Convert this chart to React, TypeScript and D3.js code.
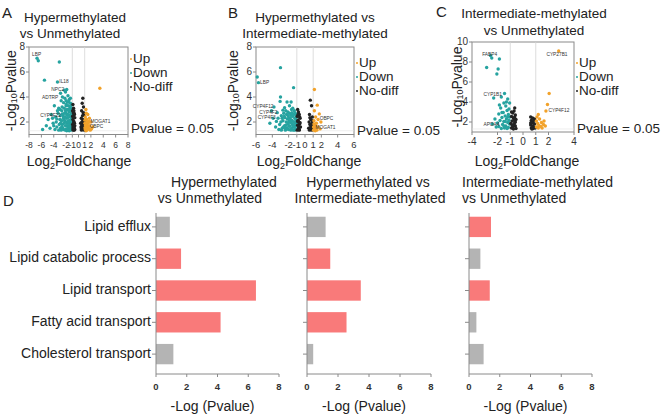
import React from 'react';
import * as d3 from 'd3';

type P = [number, number];

// ---------- Panel A: Hypermethylated vs Unmethylated ----------
const downA: P[] = [[-6.7,7.1],[-6.5,6.9],[-3.1,6.8],[-5.5,5.35],[-3.4,5.2],[-2.9,4.3],[-2.3,4.55],[-2.1,4.4],[-1.9,4.6],[-2.6,4.0],[-2.2,3.9],[-1.7,4.1],[-2.8,3.7],[-3.9,3.3],[-2.4,3.55],[-1.5,3.8],[-1.8,3.6],[-3.2,3.1],[-2.0,3.3],[-1.3,3.5],[-4.4,2.6],[-4.9,2.2],[-5.2,1.7],[-4.1,1.9],[-3.7,2.4],[-3.5,1.6],[-3.3,2.7],[-3.0,2.2],[-2.9,1.5],[-2.7,2.9],[-2.6,1.8],[-2.5,2.5],[-2.4,1.4],[-2.3,3.1],[-2.2,2.1],[-2.1,1.7],[-2.0,2.7],[-1.95,1.45],[-1.9,2.3],[-1.85,3.0],[-1.8,1.9],[-1.75,2.6],[-1.7,1.5],[-1.65,3.3],[-1.6,2.1],[-1.55,1.7],[-1.5,2.8],[-1.45,1.4],[-1.4,2.4],[-1.35,3.1],[-1.3,1.9],[-1.25,2.6],[-1.2,1.6],[-1.15,2.2],[-1.1,3.0],[-1.05,1.45],[-1.02,2.5],[-3.8,1.4],[-3.6,2.0],[-3.4,2.9],[-3.1,1.8],[-2.95,2.5],[-2.8,1.35],[-2.75,2.1],[-2.65,3.2],[-2.55,1.55],[-2.45,2.3],[-2.35,1.9],[-2.25,2.7],[-2.15,1.35],[-2.05,2.0],[-1.98,3.4],[-1.88,1.7],[-1.78,2.35],[-1.72,2.95],[-1.62,1.35],[-1.58,2.55],[-1.48,1.95],[-1.42,3.25],[-1.38,1.6],[-1.32,2.15],[-1.28,2.85],[-1.22,1.35],[-1.18,1.8],[-1.12,2.45],[-1.08,1.65],[-1.04,2.05],[-1.6,3.6],[-2.0,3.7],[-1.3,3.9],[-1.1,3.4],[-1.5,1.3],[-1.9,1.3],[-1.2,2.9],[-2.7,1.6],[-3.2,1.35],[-4.6,1.5],[-4.2,2.3],[-5.8,1.4],[-3.0,3.0],[-2.2,2.4],[-1.7,2.0],[-1.4,1.8],[-1.1,1.9],[-1.25,3.2],[-1.55,3.0],[-1.85,2.55],[-2.1,2.9],[-2.35,2.15],[-2.6,2.65],[-2.9,1.9],[-3.5,2.25],[-4.0,1.7]];
const upA: P[] = [[3.45,4.7],[1.2,3.0],[1.5,2.6],[1.1,2.4],[1.3,2.2],[1.7,2.05],[1.05,1.9],[1.4,1.8],[1.2,1.6],[1.6,1.5],[1.1,1.4],[1.35,1.35],[1.8,1.7],[2.1,1.45],[1.25,2.7],[1.05,2.15],[1.45,2.0],[1.15,1.75],[1.55,1.65],[1.3,1.5],[1.05,1.55],[1.9,1.35],[1.2,1.3],[2.3,1.6],[1.6,1.95],[1.75,2.3],[1.4,1.4],[2.0,2.0]];
const nodiffA: P[] = [[-0.9,3.4],[-0.8,3.1],[-0.95,2.9],[-0.7,2.7],[-0.85,2.5],[-0.6,2.35],[-0.9,2.2],[-0.75,2.05],[-0.65,1.9],[-0.95,1.8],[-0.8,1.7],[-0.7,1.55],[-0.9,1.45],[-0.6,1.4],[-0.85,1.35],[-0.75,2.9],[-0.65,2.6],[-0.95,2.45],[-0.7,1.35],[-0.8,1.95],[-0.9,1.6],[-0.6,1.7],[-0.85,2.75],[-0.75,1.5],[0.7,3.9],[0.6,3.5],[0.8,3.2],[0.5,2.9],[0.9,2.7],[0.65,2.5],[0.45,2.3],[0.85,2.15],[0.55,2.0],[0.75,1.85],[0.95,1.7],[0.4,1.6],[0.6,1.5],[0.8,1.4],[0.5,1.35],[0.7,1.65],[0.9,2.0],[0.35,1.9],[0.65,2.2],[0.85,2.55],[0.45,1.45],[0.75,2.75],[0.55,1.75],[0.95,1.35]];
const labelsA: [string, number, number][] = [["LBP",-7.5,7.35],["IL18",-3.1,5.2],["NPC2",-4.4,4.56],["ADTRP",-5.9,3.98],["CYP4F22",-6.2,2.48],["MOGAT1",1.95,2.02],["OBPC",1.8,1.6]];
const xTicksA = [-8,-6,-4,-2,-1,0,1,2,4,6,8];
const yTicksA = [2,4,6,8];

// ---------- Panel B: Hypermethylated vs Intermediate-methylated ----------
const downB: P[] = [[-5.85,5.6],[-5.7,5.15],[-3.0,6.35],[-1.4,4.75],[-3.0,4.0],[-3.05,3.65],[-3.8,3.2],[-2.2,3.6],[-1.7,3.6],[-2.5,3.15],[-2.7,2.95],[-1.9,3.3],[-1.5,3.1],[-4.1,2.9],[-3.4,2.75],[-2.1,2.8],[-1.3,2.9],[-3.3,2.3],[-3.1,1.8],[-2.9,2.5],[-2.8,1.5],[-2.7,2.1],[-2.6,2.7],[-2.5,1.7],[-2.45,2.35],[-2.4,1.35],[-2.3,2.0],[-2.25,2.6],[-2.2,1.55],[-2.15,2.25],[-2.1,1.85],[-2.05,2.5],[-2.0,1.4],[-1.95,2.1],[-1.9,2.7],[-1.85,1.65],[-1.8,2.35],[-1.75,1.95],[-1.7,2.55],[-1.65,1.45],[-1.6,2.15],[-1.55,1.8],[-1.5,2.45],[-1.45,1.35],[-1.4,2.0],[-1.35,2.65],[-1.3,1.6],[-1.25,2.3],[-1.2,1.9],[-1.15,1.45],[-1.1,2.2],[-1.05,1.7],[-3.6,1.6],[-3.5,2.05],[-3.2,1.4],[-2.95,2.0],[-2.65,1.6],[-2.35,1.75],[-2.05,1.95],[-1.75,1.35],[-1.6,2.75],[-1.45,2.6],[-1.25,1.35],[-1.1,2.55],[-2.8,2.3],[-2.55,2.45],[-2.0,2.3],[-1.85,2.05],[-1.55,1.55],[-1.3,2.0],[-1.15,1.75],[-2.45,1.5],[-2.15,1.45],[-1.95,1.7],[-1.7,2.15],[-1.4,1.7],[-3.9,2.3],[-4.3,1.9],[-2.9,1.35],[-1.0,1.9],[-1.05,2.4],[-1.2,2.7],[-1.65,3.0],[-2.35,2.9]];
const upB: P[] = [[1.15,4.6],[1.5,3.35],[1.15,2.9],[1.75,2.65],[1.95,2.0],[1.3,2.4],[1.6,2.2],[1.1,2.1],[1.4,1.9],[1.2,1.75],[1.05,1.6],[1.3,1.5],[1.15,1.4],[1.45,1.35],[1.05,1.35],[1.6,1.6],[1.25,1.3],[1.85,1.45],[1.35,1.65],[1.1,1.85]];
const nodiffB: P[] = [[-0.9,3.0],[-0.8,2.8],[-0.7,2.6],[-0.95,2.45],[-0.6,2.3],[-0.85,2.15],[-0.75,2.0],[-0.65,1.85],[-0.9,1.75],[-0.55,1.6],[-0.8,1.5],[-0.7,1.4],[-0.95,1.35],[-0.6,1.95],[-0.85,2.6],[-0.75,1.65],[-0.65,2.4],[-0.9,2.05],[-0.7,1.35],[0.65,3.75],[0.8,3.3],[0.55,2.6],[0.9,2.4],[0.7,2.2],[0.5,2.0],[0.85,1.9],[0.6,1.8],[0.75,1.65],[0.95,1.55],[0.45,1.5],[0.7,1.4],[0.85,1.35],[0.55,1.35],[0.9,2.1],[0.6,2.35],[0.8,1.7],[0.65,1.55]];
const labelsB: [string, number, number][] = [["LBP",-5.5,5.15],["CYP4F12",-6.4,3.25],["CYP4F2",-5.6,2.78],["CYP4F3",-5.8,2.32],["OBPC",1.8,2.3],["MOGAT1",1.3,1.58]];
const xTicksB = [-6,-4,-2,-1,0,1,2,4,6];
const yTicksB = [2,4,6,8];

// ---------- Panel C: Intermediate-methylated vs Unmethylated ----------
const downC: P[] = [[-2.85,7.45],[-2.45,8.4],[-1.85,8.3],[-1.95,7.3],[-2.05,6.8],[-2.55,8.65],[-1.45,4.85],[-1.7,4.5],[-2.3,4.4],[-1.2,4.3],[-1.5,3.9],[-1.35,3.6],[-1.75,3.4],[-1.25,3.15],[-1.55,2.95],[-1.1,3.3],[-1.9,2.8],[-1.4,2.6],[-1.15,2.75],[-1.65,2.45],[-1.3,2.3],[-1.05,2.5],[-1.8,2.15],[-1.5,2.05],[-1.2,1.95],[-1.05,1.8],[-1.6,1.75],[-1.35,1.6],[-1.9,1.55],[-1.15,1.45],[-1.45,1.4],[-1.7,1.35],[-2.1,1.5],[-1.25,1.35],[-2.0,1.9],[-1.1,2.15],[-1.4,2.05],[-1.65,2.95],[-1.3,4.0],[-1.05,3.9],[-1.85,3.7],[-1.5,1.6],[-2.2,2.3],[-2.4,1.8],[-1.2,2.5]];
const upC: P[] = [[2.8,9.1],[2.05,4.85],[1.92,3.75],[1.8,3.1],[1.65,2.1],[1.2,2.75],[1.1,2.5],[1.3,2.3],[1.05,2.1],[1.45,1.95],[1.15,1.85],[1.6,1.75],[1.25,1.65],[1.05,1.5],[1.4,1.55],[1.75,1.6],[1.2,1.4],[1.5,1.4]];
const nodiffC: P[] = [[-0.65,3.4],[-0.7,3.1],[-0.8,2.9],[-0.6,2.7],[-0.9,2.55],[-0.75,2.4],[-0.55,2.25],[-0.85,2.1],[-0.65,1.95],[-0.95,1.85],[-0.7,1.75],[-0.6,1.6],[-0.8,1.5],[-0.9,1.4],[-0.55,1.35],[-0.75,1.3],[-0.65,2.5],[-0.85,1.7],[-0.6,2.0],[-0.7,2.2],[-0.9,3.0],[-0.8,1.4],[0.6,2.5],[0.75,2.4],[0.9,2.3],[0.65,2.15],[0.8,2.0],[0.7,1.9],[0.9,1.8],[0.6,1.7],[0.75,1.6],[0.85,1.5],[0.65,1.4],[0.8,1.35],[0.95,1.4],[0.7,1.3],[0.6,1.9],[0.85,2.2]];
const labelsC: [string, number, number][] = [["FABP4",-3.2,8.77],["CYP1B1",-3.1,4.77],["APOA4",-3.1,1.7],["CYP27B1",1.84,8.7],["CYP4F12",2.0,3.1]];
const xTicksC = [-4,-2,-1,0,1,2,4];
const yTicksC = [2,4,6,8,10];

// ---------- Panel D: enrichment ----------
const categories = ['Lipid efflux','Lipid catabolic process','Lipid transport','Fatty acid transport','Cholesterol transport'];
const valuesHvU = [0.9,1.63,6.5,4.2,1.13];
const sigHvU = [false,true,true,true,false];
const valuesHvI = [1.2,1.5,3.47,2.55,0.4];
const sigHvI = [false,true,true,true,false];
const valuesIvU = [1.43,0.74,1.35,0.48,0.95];
const sigIvU = [true,false,true,false,false];
const barTicks = [0,2,4,6,8];

const FONT = "'Liberation Sans', Arial, Helvetica, sans-serif";
const TEAL = '#26a3a0';
const ORANGE = '#f2a22a';
const BLACK = '#222';
const RED = '#f97a7a';
const GRAY = '#b4b4b4';
const AXIS = '#8a8a8a';

type VProps = {
  up: P[]; down: P[]; nodiff: P[]; labels: [string, number, number][];
  xDomain: [number, number]; yDomain: [number, number]; xTicks: number[]; yTicks: number[];
  x0: number; x1: number; yTop: number; yBottom: number; tickFont: number;
  yLabelX: number; xLabelX: number;
  legendY: number[]; pvalY: number;
};

function Volcano(p: VProps) {
  const x = d3.scaleLinear().domain(p.xDomain).range([p.x0, p.x1]);
  const y = d3.scaleLinear().domain(p.yDomain).range([p.yBottom, p.yTop]);
  const r = 1.7;
  const lx = p.x1 + 4;
  return (
    <g>
      <rect x={p.x0} y={p.yTop} width={p.x1 - p.x0} height={p.yBottom - p.yTop} fill="none" stroke={AXIS} strokeWidth={1} />
      {[-1, 1].map(v => (
        <line key={v} x1={x(v)} x2={x(v)} y1={p.yTop} y2={p.yBottom} stroke="#d4d4d4" strokeWidth={0.8} />
      ))}
      <line x1={p.x0} x2={p.x1} y1={y(1.3)} y2={y(1.3)} stroke="#e2e2e2" strokeWidth={0.6} />
      {p.down.map((d, i) => <circle key={'d' + i} cx={x(d[0])} cy={y(d[1])} r={r} fill={TEAL} />)}
      {p.nodiff.map((d, i) => <circle key={'n' + i} cx={x(d[0])} cy={y(d[1])} r={r} fill={BLACK} />)}
      {p.up.map((d, i) => <circle key={'u' + i} cx={x(d[0])} cy={y(d[1])} r={r} fill={ORANGE} />)}
      {p.labels.map((l, i) => (
        <text key={'l' + i} x={x(l[1])} y={y(l[2])} fontSize={4.8} fill="#333" dominantBaseline="middle">{l[0]}</text>
      ))}
      {p.yTicks.map(t => (
        <g key={'yt' + t}>
          <line x1={p.x0 - 3} x2={p.x0} y1={y(t)} y2={y(t)} stroke={AXIS} />
          <text x={p.x0 - 4} y={y(t)} fontSize={10} textAnchor="end" dominantBaseline="middle" fill="#333">{t}</text>
        </g>
      ))}
      {p.xTicks.map(t => (
        <g key={'xt' + t}>
          <line x1={x(t)} x2={x(t)} y1={p.yBottom} y2={p.yBottom + 3} stroke={AXIS} />
          <text x={x(t)} y={p.yBottom + 13} fontSize={p.tickFont} textAnchor="middle" fill="#333">{t}</text>
        </g>
      ))}
      <text x={p.xLabelX} y={166} fontSize={14} textAnchor="middle" fill="#222">
        Log<tspan fontSize={9} dy={3}>2</tspan><tspan dy={-3}>FoldChange</tspan>
      </text>
      <text transform={`translate(${p.yLabelX},${(p.yTop + p.yBottom) / 2}) rotate(-90)`} fontSize={14} textAnchor="middle" dominantBaseline="middle" fill="#222">
        -Log<tspan fontSize={9} dy={3}>10</tspan><tspan dy={-3}>Pvalue</tspan>
      </text>
      {[['Up', ORANGE], ['Down', TEAL], ['No-diff', BLACK]].map((l, i) => (
        <g key={'lg' + i}>
          <circle cx={lx - 1} cy={p.legendY[i]} r={1} fill={l[1]} />
          <text x={lx + 1} y={p.legendY[i]} fontSize={13.5} dominantBaseline="middle" fill="#222">{l[0]}</text>
        </g>
      ))}
      <text x={lx - 1} y={p.pvalY} fontSize={13.5} dominantBaseline="middle" fill="#222">Pvalue = 0.05</text>
    </g>
  );
}

type BProps = { values: number[]; sig: boolean[]; x0: number; x1: number; showCats: boolean };

function Bars(p: BProps) {
  const x = d3.scaleLinear().domain([0, 8]).range([p.x0, p.x1]);
  const y = d3.scaleBand<string>().domain(categories).range([211, 370]).paddingInner(0.36).paddingOuter(0.18);
  const axisY = 374;
  return (
    <g>
      {categories.map((c, i) => (
        <rect key={c} x={x(0)} y={y(c)!} width={x(p.values[i]) - x(0)} height={y.bandwidth()} fill={p.sig[i] ? RED : GRAY} />
      ))}
      <line x1={p.x0} x2={p.x0} y1={213} y2={axisY} stroke={AXIS} strokeWidth={1} />
      <line x1={p.x0} x2={p.x1} y1={axisY} y2={axisY} stroke={AXIS} strokeWidth={1} />
      {categories.map(c => (
        <g key={'t' + c}>
          <line x1={p.x0 - 4} x2={p.x0} y1={y(c)! + y.bandwidth() / 2} y2={y(c)! + y.bandwidth() / 2} stroke={AXIS} />
          {p.showCats && (
            <text x={p.x0 - 5} y={y(c)! + y.bandwidth() / 2} fontSize={14} textAnchor="end" dominantBaseline="middle" fill="#222">{c}</text>
          )}
        </g>
      ))}
      {barTicks.map(t => (
        <g key={'x' + t}>
          <line x1={x(t)} x2={x(t)} y1={axisY} y2={axisY + 3} stroke={AXIS} />
          <text x={x(t)} y={axisY + 16} fontSize={9.5} fontWeight="bold" textAnchor="middle" fill="#333">{t}</text>
        </g>
      ))}
      <text x={(p.x0 + p.x1) / 2 - 5} y={411} fontSize={14} textAnchor="middle" fill="#222">-Log (Pvalue)</text>
    </g>
  );
}

export default function App() {
  return (
    <svg width={666} height={420} style={{ position: 'absolute', left: 0, top: 0, background: '#fff' }} fontFamily={FONT}>
      <rect width={666} height={420} fill="#fff" />
      {/* Panel letters */}
      <text x={2} y={18} fontSize={15} fill="#222">A</text>
      <text x={228} y={18} fontSize={15} fill="#222">B</text>
      <text x={436} y={17} fontSize={15} fill="#222">C</text>
      <text x={3} y={206} fontSize={15} fill="#222">D</text>

      {/* Volcano titles */}
      <text x={75} y={22} fontSize={13.5} textAnchor="middle" fill="#222">Hypermethylated</text>
      <text x={70} y={37.5} fontSize={13.5} textAnchor="middle" fill="#222">vs Unmethylated</text>
      <text x={315} y={22} fontSize={13.5} textAnchor="middle" fill="#222">Hypermethylated vs</text>
      <text x={315} y={37.5} fontSize={13.5} textAnchor="middle" fill="#222">Intermediate-methylated</text>
      <text x={534} y={18} fontSize={13.5} textAnchor="middle" fill="#222">Intermediate-methylated</text>
      <text x={534} y={34.5} fontSize={13.5} textAnchor="middle" fill="#222">vs Unmethylated</text>

      <Volcano up={upA} down={downA} nodiff={nodiffA} labels={labelsA} xDomain={[-8, 8]} yDomain={[1, 8]}
        xTicks={xTicksA} yTicks={yTicksA} x0={29} x1={128} yTop={47} yBottom={134.5} tickFont={8.5}
        yLabelX={12} xLabelX={79} legendY={[59, 73, 87]} pvalY={129} />
      <Volcano up={upB} down={downB} nodiff={nodiffB} labels={labelsB} xDomain={[-6, 6]} yDomain={[1, 8]}
        xTicks={xTicksB} yTicks={yTicksB} x0={256} x1={354} yTop={47} yBottom={134.5} tickFont={9.5}
        yLabelX={234} xLabelX={309} legendY={[63, 77, 91]} pvalY={131} />
      <Volcano up={upC} down={downC} nodiff={nodiffC} labels={labelsC} xDomain={[-4, 4]} yDomain={[1, 10]}
        xTicks={xTicksC} yTicks={yTicksC} x0={472} x1={574} yTop={42} yBottom={132} tickFont={10}
        yLabelX={458} xLabelX={527} legendY={[63, 77, 91]} pvalY={129} />

      {/* Bar chart titles */}
      <text x={224} y={187} fontSize={14} textAnchor="middle" fill="#222">Hypermethylated</text>
      <text x={210} y={203} fontSize={14} textAnchor="middle" fill="#222">vs Unmethylated</text>
      <text x={368} y={187} fontSize={14} textAnchor="middle" fill="#222">Hypermethylated vs</text>
      <text x={370} y={203} fontSize={14} textAnchor="middle" fill="#222">Intermediate-methylated</text>
      <text x={462} y={187} fontSize={14} fill="#222">Intermediate-methylated</text>
      <text x={462} y={203} fontSize={14} fill="#222">vs Unmethylated</text>

      <Bars values={valuesHvU} sig={sigHvU} x0={156} x1={279} showCats={true} />
      <Bars values={valuesHvI} sig={sigHvI} x0={307} x1={431} showCats={false} />
      <Bars values={valuesIvU} sig={sigIvU} x0={469} x1={592} showCats={false} />
    </svg>
  );
}
